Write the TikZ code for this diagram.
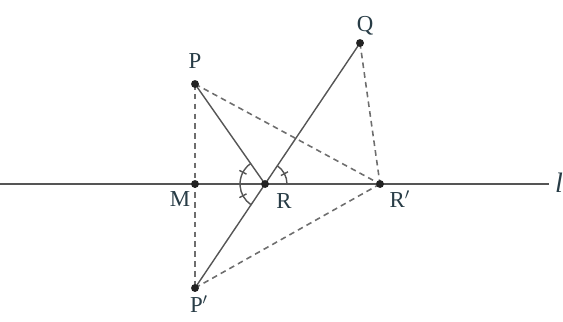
\documentclass[tikz,border=0pt]{standalone}
\usepackage{fontspec}
\setmainfont{Liberation Serif}
\definecolor{lncol}{RGB}{85,85,85}
\definecolor{dotcol}{RGB}{35,35,35}
\definecolor{labcol}{RGB}{40,60,70}
\begin{document}
\begin{tikzpicture}[x=0.02cm,y=-0.02cm,
  ln/.style={draw=lncol,line width=0.8pt},
  dsh/.style={draw=lncol!85,line width=0.9pt,dash pattern=on 3.2pt off 2.4pt},
  dot/.style={circle,fill=dotcol,inner sep=0pt,minimum size=4.5pt},
  lab/.style={text=labcol,font=\fontsize{13}{15}\selectfont,inner sep=0pt}]
\useasboundingbox (0,0) rectangle (563,321);
\coordinate (L0) at (0,184);
\coordinate (L1) at (549,184);
\coordinate (P) at (195,84);
\coordinate (M) at (195,184);
\coordinate (R) at (265,184);
\coordinate (Q) at (360,43);
\coordinate (Rp) at (380,184);
\coordinate (Pp) at (195,288);
% line l
\draw[ln] (L0) -- (L1);
\node[lab,font=\fontsize{16}{18}\selectfont\itshape] (l) at (559,183) {l};
% solid
\draw[ln] (P) -- (R);
\draw[ln] (Q) -- (Pp);
% dashed
\draw[dsh] (P) -- (Pp);
\draw[dsh] (P) -- (Rp);
\draw[dsh] (Q) -- (Rp);
\draw[dsh] (Pp) -- (Rp);
% angle marks
\draw[ln] ([shift={(-124.7:25)}]R) arc[start angle=-124.7,end angle=-235.4,radius=25];
\draw[ln] ([shift={(0:22)}]R) arc[start angle=0,end angle=-56.2,radius=22];
\draw[ln] ([shift={(-152:21)}]R) -- ([shift={(-152:29)}]R);
\draw[ln] ([shift={(-208:21)}]R) -- ([shift={(-208:29)}]R);
\draw[ln] ([shift={(-28:18)}]R) -- ([shift={(-28:26)}]R);
% dots
\foreach \p in {P,M,R,Q,Rp,Pp} \node[dot] at (\p) {};
% labels
\node[lab] (lP) at (195,61) {P};
\node[lab] (lM) at (180,199) {M};
\node[lab] (lR) at (284,201) {R};
\node[lab] (lQ) at (365,26) {Q};
\node[lab] (lRp) at (400,199) {R$'$};
\node[lab] (lPp) at (199,304) {P$'$};
\end{tikzpicture}
\end{document}
